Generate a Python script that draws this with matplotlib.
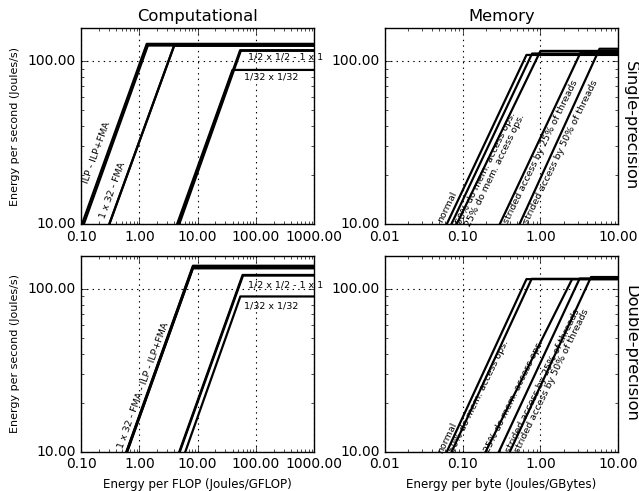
import matplotlib
matplotlib.use('Agg')
import matplotlib.pyplot as plt
from matplotlib.ticker import FormatStrFormatter, NullFormatter

plt.style.use('classic')

# x where each line leaves y=10, x of the knee, flat level (Joules/s)
comp_sp_start = [0.104, 0.112, 0.306, 0.306, 4.65, 4.85, 4.45]
comp_sp_knee = [1.34, 1.40, 3.96, 3.96, 53.5, 55.0, 39.6]
comp_sp_level = [128, 125, 125, 125, 117, 116, 88.5]

comp_dp_start = [0.600, 0.605, 0.615, 0.620, 4.85, 4.95, 6.15]
comp_dp_knee = [8.3, 8.3, 8.3, 8.3, 59.0, 60.0, 54.0]
comp_dp_level = [139, 137, 135, 134, 122, 121, 90]

mem_sp_start = [0.0624, 0.0716, 0.0838, 0.300, 0.538]
mem_sp_knee = [0.66, 0.78, 1.00, 3.30, 5.75]
mem_sp_level = [109.4, 111.6, 115.8, 114, 119.4]

mem_dp_start = [0.0624, 0.072, 0.197, 0.292, 0.404]
mem_dp_knee = [0.66, 0.77, 2.55, 3.19, 4.47]
mem_dp_level = [115, 115.5, 115, 116, 118.5]

# label texts and where they sit (data coords)
comp_sp_text = ['ILP - ILP+FMA', '1 x 32 - FMA', '1/2 x 1/2 - 1 x 1', '1/32 x 1/32']
comp_sp_tx = [0.185, 0.355, 72.8, 61.3]
comp_sp_ty = [27.5, 16.2, 106.9, 79.7]
comp_sp_rot = [70, 70, 0, 0]

comp_dp_text = ['1 x 32 - FMA - ILP - ILP+FMA', '1/2 x 1/2 - 1 x 1', '1/32 x 1/32']
comp_dp_tx = [1.16, 72.8, 61.3]
comp_dp_ty = [25.5, 106.5, 79.0]
comp_dp_rot = [70, 0, 0]

mem_text = ['normal', '50% do mem. access ops.', '25% do mem. access ops.',
            'strided access by 25% of threads', 'strided access by 50% of threads']
mem_sp_tx = [0.0624, 0.20, 0.265, 1.02, 1.84]
mem_sp_ty = [12.7, 22.1, 21.5, 27.7, 27.7]
mem_dp_tx = [0.0624, 0.162, 0.455, 1.07, 1.41]
mem_dp_ty = [12.1, 21.9, 21.9, 27.4, 27.4]

ymin, ymax = 10, 160

fig = plt.figure(figsize=(6.39, 4.91), dpi=100, facecolor='white')

left = [0.1268, 0.6025]
bottom = [0.5438, 0.0800]
w, h = 0.3650, 0.3990


def draw(ax, starts, knees, levels, xmin, xmax):
    for s, k, l in zip(starts, knees, levels):
        ax.plot([s, k, xmax], [ymin, l, l], color='k', lw=1.6)
    ax.set_xscale('log')
    ax.set_yscale('log')
    ax.set_xlim(xmin, xmax)
    ax.set_ylim(ymin, ymax)
    ax.xaxis.set_major_formatter(FormatStrFormatter('%.2f'))
    ax.yaxis.set_major_formatter(FormatStrFormatter('%.2f'))
    ax.xaxis.set_minor_formatter(NullFormatter())
    ax.yaxis.set_minor_formatter(NullFormatter())
    ax.grid(True, which='major', linestyle=':', color='k', lw=0.8)
    ax.tick_params(labelsize=10)


def labels(ax, texts, tx, ty, rots):
    for t, x, y, r in zip(texts, tx, ty, rots):
        ha = 'center' if r else 'left'
        ax.text(x, y, t, fontsize=6.8, rotation=r, ha=ha, va='center')


ax1 = fig.add_axes([left[0], bottom[0], w, h])
draw(ax1, comp_sp_start, comp_sp_knee, comp_sp_level, 0.1, 1000)
labels(ax1, comp_sp_text, comp_sp_tx, comp_sp_ty, comp_sp_rot)
ax1.set_title('Computational', fontsize=11.8)
ax1.set_ylabel('Energy per second (Joules/s)', fontsize=8)

ax2 = fig.add_axes([left[1], bottom[0], w, h])
draw(ax2, mem_sp_start, mem_sp_knee, mem_sp_level, 0.01, 10)
labels(ax2, mem_text, mem_sp_tx, mem_sp_ty, [64] * 5)
ax2.set_title('Memory', fontsize=11.8)
ax2.text(1.02, 0.5, 'Single-precision', transform=ax2.transAxes,
         rotation=-90, ha='left', va='center', fontsize=11.7)

ax3 = fig.add_axes([left[0], bottom[1], w, h])
draw(ax3, comp_dp_start, comp_dp_knee, comp_dp_level, 0.1, 1000)
labels(ax3, comp_dp_text, comp_dp_tx, comp_dp_ty, comp_dp_rot)
ax3.set_ylabel('Energy per second (Joules/s)', fontsize=8)
ax3.set_xlabel('Energy per FLOP (Joules/GFLOP)', fontsize=8.6)

ax4 = fig.add_axes([left[1], bottom[1], w, h])
draw(ax4, mem_dp_start, mem_dp_knee, mem_dp_level, 0.01, 10)
labels(ax4, mem_text, mem_dp_tx, mem_dp_ty, [64] * 5)
ax4.set_xlabel('Energy per byte (Joules/GBytes)', fontsize=8.6)
ax4.text(1.02, 0.5, 'Double-precision', transform=ax4.transAxes,
         rotation=-90, ha='left', va='center', fontsize=11.7)

fig.savefig('out.png', dpi=100, facecolor='white')
